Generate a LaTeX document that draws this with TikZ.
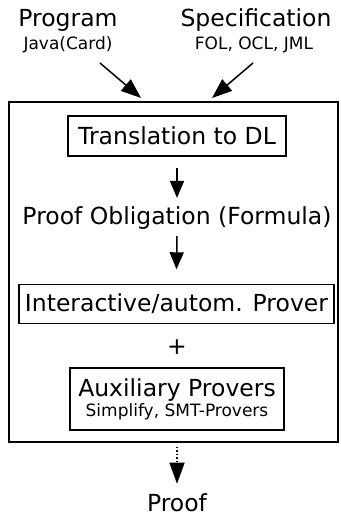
\documentclass[tikz,border=0pt]{standalone}
\usepackage{fontspec}
\setmainfont{DejaVu Sans}
\usetikzlibrary{arrows.meta}
\tikzset{
  big/.style={font=\fontsize{23.5}{27}\selectfont, inner sep=0pt},
  small/.style={font=\fontsize{17}{20}\selectfont, inner sep=0pt},
  boxed/.style={draw, line width=1.4pt, inner sep=0pt, align=center},
  arr/.style={line width=1.5pt, -{Triangle[length=17pt,width=14pt]}},
  darr/.style={line width=1.5pt, dotted, -{Triangle[length=21pt,width=15pt]}}
}
\begin{document}
\begin{tikzpicture}[x=1pt,y=-1pt]
\useasboundingbox (0,0) rectangle (340,514);
\node[big] (prog) at (68,20) {Program};
\node[small] (java) at (68,45) {Java(Card)};
\node[big] (spec) at (256,20) {Specification};
\node[small] (fol) at (254,45) {FOL, OCL, JML};
\node[boxed, minimum width=329pt, minimum height=340pt] (outer) at (173.5,272) {};
\coordinate (a1s) at (100,63);
\coordinate (a1e) at (141,98);
\coordinate (a2s) at (253,63);
\coordinate (a2e) at (212,98);
\draw[arr, -{Triangle[length=20pt,width=15pt]}] (a1s) -- (a1e);
\draw[arr, -{Triangle[length=20pt,width=15pt]}] (a2s) -- (a2e);
\node[boxed, big, minimum width=218pt, minimum height=40pt] (trans) at (177,136) {Translation to DL};
\node[big] (po) at (177,218) {Proof Obligation (Formula)};
\node[boxed, big, minimum width=315pt, minimum height=39pt] (inter) at (176.5,304) {Interactive/autom. Prover};
\node[big] (plus) at (177,347) {+};
\node[boxed, minimum width=214pt, minimum height=62pt] (aux) at (177,399) {{\fontsize{23.5}{27}\selectfont Auxiliary Provers}\\[1pt]{\fontsize{17}{20}\selectfont Simplify, SMT-Provers}};
\node[big] (proof) at (177,502.5) {Proof};
\draw[arr] ([yshift=-11pt]trans.south) -- ([yshift=8.5pt]po.north);
\draw[arr] ([yshift=-6.5pt]po.south) -- ([yshift=14.5pt]inter.north);
\draw[darr] ([yshift=-4pt]outer.south -| proof) -- ([yshift=9.5pt]proof.north);
\end{tikzpicture}
\end{document}
